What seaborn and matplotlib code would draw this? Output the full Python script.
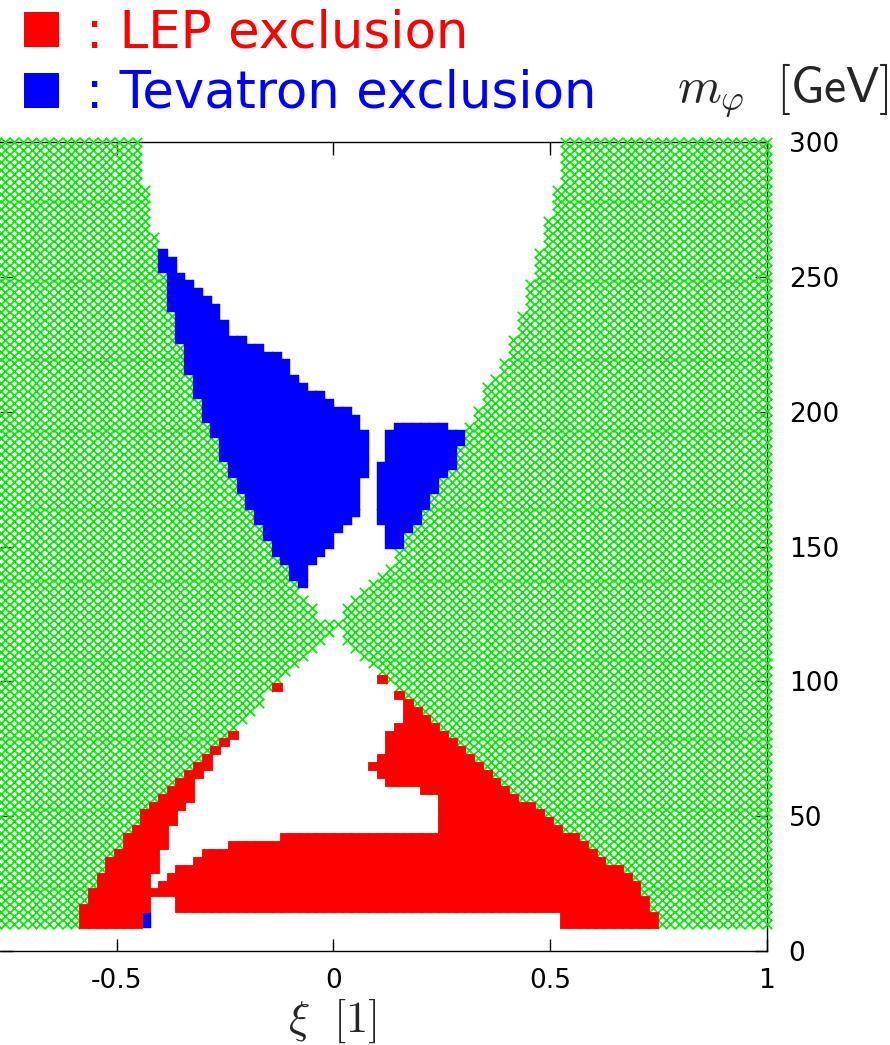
import numpy as np
import pandas as pd
import seaborn as sns
import matplotlib
matplotlib.use("Agg")
import matplotlib.pyplot as plt
from matplotlib.path import Path
from matplotlib.patches import Rectangle

# ---------------------------------------------------------------
# Scan grid of the (xi, m_phi) plane
# ---------------------------------------------------------------
xi_grid = np.linspace(-1.0, 1.0, 100)
m_grid = np.linspace(10.0, 300.0, 100)

# Theoretically allowed band (everything outside it is hatched).
# Each edge is a step function of m_phi: value holds from the break upward.
upper_left_brk = [122.8, 128.6, 131.6, 137.4, 143.3, 146.2, 152.1, 157.9, 163.8, 169.6, 175.5,
                  181.4, 190.2, 196.0, 204.8, 213.6, 225.3, 237.0, 251.7, 266.3, 283.9]
upper_left_xi = [-0.040, -0.061, -0.081, -0.101, -0.121, -0.141, -0.162, -0.182, -0.202, -0.222, -0.242,
                 -0.263, -0.283, -0.303, -0.323, -0.343, -0.364, -0.384, -0.404, -0.424, -0.444]

upper_right_brk = [122.8, 128.6, 131.6, 134.5, 137.4, 140.3, 143.3, 149.1, 155.0, 157.9, 163.8, 169.6, 175.5,
                   178.4, 187.2, 196.0, 201.9, 210.7, 213.6, 219.4, 228.2, 237.0, 248.7, 260.5, 272.2, 283.9]
upper_right_xi = [0.020, 0.040, 0.061, 0.081, 0.101, 0.121, 0.141, 0.162, 0.182, 0.202, 0.222, 0.242, 0.263,
                  0.283, 0.303, 0.323, 0.343, 0.364, 0.384, 0.404, 0.424, 0.444, 0.465, 0.485, 0.505, 0.525]

lower_left_brk = [8.5, 17.3, 23.2, 29.0, 34.9, 37.8, 43.7, 46.6, 52.5, 55.4, 58.3, 61.3, 64.2, 67.1, 70.1,
                  73.0, 75.9, 78.8, 81.8, 84.7, 87.6, 90.6, 96.4, 99.3, 102.3, 105.2, 108.1, 111.1, 114.0,
                  116.9, 119.8]
lower_left_xi = [-0.586, -0.566, -0.545, -0.525, -0.505, -0.485, -0.465, -0.444, -0.424, -0.404, -0.384,
                 -0.364, -0.343, -0.323, -0.303, -0.283, -0.263, -0.242, -0.222, -0.202, -0.182, -0.162,
                 -0.141, -0.121, -0.101, -0.081, -0.061, -0.040, -0.020, 0.000, np.nan]

lower_right_brk = [8.5, 14.4, 20.3, 26.1, 29.0, 32.0, 34.9, 37.8, 40.8, 43.7, 46.6, 49.5, 52.5, 55.4, 58.3,
                   61.3, 64.2, 67.1, 70.1, 73.0, 75.9, 78.8, 81.8, 84.7, 87.6, 90.6, 93.5, 96.4, 99.3,
                   102.3, 105.2, 108.1, 111.1, 114.0, 119.8]
lower_right_xi = [0.747, 0.727, 0.707, 0.687, 0.667, 0.626, 0.606, 0.586, 0.566, 0.525, 0.505, 0.485,
                  0.465, 0.424, 0.404, 0.384, 0.364, 0.343, 0.323, 0.303, 0.283, 0.263, 0.242, 0.222,
                  0.202, 0.182, 0.162, 0.141, 0.121, 0.101, 0.081, 0.061, 0.040, 0.020, np.nan]

# LEP: allowed cells in the lower wedge, except these unexcluded pockets
lep_gap_xi = [-0.798, 0.919, 0.919, 0.141, 0.141, 0.162, 0.162, 0.141, 0.141, 0.121, 0.121, 0.101,
              0.101, 0.081, 0.081, 0.101, 0.101, 0.121, 0.121, 0.202, 0.202, 0.242, 0.242, -0.121,
              -0.121, -0.242, -0.242, -0.303, -0.303, -0.323, -0.323, -0.364, -0.364, -0.384, -0.384,
              -0.404, -0.404, -0.424, -0.424, -0.404, -0.404, -0.384, -0.384, -0.364, -0.364, -0.343,
              -0.343, -0.323, -0.323, -0.303, -0.303, -0.283, -0.283, -0.263, -0.263, -0.242, -0.242,
              -0.222, -0.222, -0.798]
lep_gap_m = [127.2, 127.2, 96.4, 96.4, 93.5, 93.5, 84.7, 84.7, 81.8, 81.8, 73.0, 73.0,
             70.1, 70.1, 67.1, 67.1, 64.2, 64.2, 61.3, 61.3, 58.3, 58.3, 43.7, 43.7,
             40.8, 40.8, 37.8, 37.8, 34.9, 34.9, 32.0, 32.0, 29.0, 29.0, 26.1,
             26.1, 23.2, 23.2, 29.0, 29.0, 37.8, 37.8, 46.6, 46.6, 52.5, 52.5,
             55.4, 55.4, 64.2, 64.2, 67.1, 67.1, 73.0, 73.0, 75.9, 75.9, 78.8,
             78.8, 81.8, 81.8]
lep_strip_xi = [-0.444, 0.525, 0.525, -0.364, -0.364, -0.424, -0.424, -0.444]
lep_strip_m = [7.1, 7.1, 14.4, 14.4, 20.3, 20.3, 14.4, 14.4]
lep_extra_xi = [-0.131, 0.111]
lep_extra_m = [97.9, 100.8]

# Tevatron: left lobe bounded on the right, right lobe bounded on both sides
tev_left_brk = [134.5, 143.3, 146.2, 149.1, 155.0, 157.9, 160.9, 175.5, 193.1, 198.9, 201.9, 204.8,
                207.7, 210.7, 213.6, 219.4, 222.4, 225.3, 228.2, 234.1, 240.0, 242.9, 245.8, 248.7,
                251.7, 257.5, 260.5]
tev_left_xi = [-0.061, -0.040, -0.020, 0.000, 0.020, 0.040, 0.061, 0.081, 0.061, 0.040, 0.000, -0.020,
               -0.061, -0.081, -0.101, -0.121, -0.162, -0.202, -0.242, -0.263, -0.283, -0.303, -0.323,
               -0.343, -0.364, -0.384, np.nan]
tev_right_brk = [149.1, 157.9, 181.4, 193.1, 196.0]
tev_right_lo = [0.121, 0.101, 0.121, 0.141, np.nan]
tev_right_hi = [1.0, 1.0, 1.0, 0.263, np.nan]
tev_extra_xi = [-0.434, -0.434]
tev_extra_m = [10.0, 12.9]


def edge(m, brk, val):
    """Evaluate a step-function edge at the given m_phi values."""
    idx = np.searchsorted(brk, m, side="right") - 1
    v = np.asarray(val, dtype=float)
    out = v[np.clip(idx, 0, len(v) - 1)]
    return np.where(idx < 0, np.nan, out)


XI, M = np.meshgrid(xi_grid, m_grid)
XI, M = XI.ravel(), M.ravel()

upper = (XI > edge(M, upper_left_brk, upper_left_xi)) & (XI < edge(M, upper_right_brk, upper_right_xi))
lower = (XI > edge(M, lower_left_brk, lower_left_xi)) & (XI < edge(M, lower_right_brk, lower_right_xi))
theory = ~(upper | lower)

pts = np.column_stack([XI, M])
gap = Path(np.column_stack([lep_gap_xi, lep_gap_m])).contains_points(pts)
gap |= Path(np.column_stack([lep_strip_xi, lep_strip_m])).contains_points(pts)
lep = lower & ~gap

tev = upper & (
    (XI < edge(M, tev_left_brk, tev_left_xi))
    | ((XI > edge(M, tev_right_brk, tev_right_lo)) & (XI < edge(M, tev_right_brk, tev_right_hi)))
)

theory_df = pd.DataFrame({"xi": XI[theory], "m": M[theory]})
lep_df = pd.DataFrame({"xi": np.r_[XI[lep], lep_extra_xi], "m": np.r_[M[lep], lep_extra_m]})
tev_df = pd.DataFrame({"xi": np.r_[XI[tev], tev_extra_xi], "m": np.r_[M[tev], tev_extra_m]})

# ---------------------------------------------------------------
# Figure
# ---------------------------------------------------------------
sns.set_style("ticks")
plt.rcParams["font.family"] = ["DejaVu Sans"]
plt.rcParams["mathtext.fontset"] = "cm"

fig = plt.figure(figsize=(8.9, 10.45), dpi=100)
ax = fig.add_axes([0.0, 0.08995, 0.86124, 0.77388])

cell = Path([(-1, -0.9), (1, -0.9), (1, 0.9), (-1, 0.9), (-1, -0.9)], closed=True)

sns.scatterplot(data=theory_df, x="xi", y="m", marker="x", s=46, color="#00ee00",
                linewidth=1.25, ax=ax, zorder=3, clip_on=False, legend=False)
sns.scatterplot(data=tev_df, x="xi", y="m", marker=cell, s=42, color="#0000ff",
                edgecolor="#0000ff", linewidth=0.3, ax=ax, zorder=4, legend=False)
sns.scatterplot(data=lep_df, x="xi", y="m", marker=cell, s=42, color="#ff0000",
                edgecolor="#ff0000", linewidth=0.6, ax=ax, zorder=4, legend=False)

ax.set_xlim(-0.7702, 1.0)
ax.set_ylim(0, 300)
ax.set_xticks([-0.5, 0, 0.5, 1])
ax.set_xticklabels(["-0.5", "0", "0.5", "1"])
ax.set_yticks([0, 50, 100, 150, 200, 250, 300])
ax.set_yticklabels(["0", "50", "100", "150", "200", "250", "300"])
ax.tick_params(axis="both", direction="in", length=9, width=1.0, labelsize=19, colors="black")
ax.tick_params(axis="x", top=True, bottom=True, labeltop=False, labelbottom=True, pad=12)
ax.tick_params(axis="y", left=True, right=True, labelleft=False, labelright=True, pad=16)
ax.set_xlabel("")
ax.set_ylabel("")
ax.spines["left"].set_visible(False)
for side in ("top", "right", "bottom"):
    ax.spines[side].set_visible(True)
    ax.spines[side].set_linewidth(1.0)
    ax.spines[side].set_color("black")

# Axis titles
fig.text(0.374, 0.0124, r"$\xi\ \ \mathsf{[1]}$", fontsize=32, ha="center", va="baseline")
fig.text(0.999, 0.9033, r"$m_\varphi\ \ \mathsf{[GeV]}$", fontsize=36, ha="right", va="baseline")

# Colour key
fig.add_artist(Rectangle((0.027, 0.955), 0.0393, 0.0335, transform=fig.transFigure,
                         facecolor="#ff0000", edgecolor="none"))
fig.add_artist(Rectangle((0.027, 0.8967), 0.0393, 0.0335, transform=fig.transFigure,
                         facecolor="#0000ff", edgecolor="none"))
fig.text(0.0966, 0.955, ": LEP exclusion", fontsize=37, color="#ff0000", va="baseline")
fig.text(0.0966, 0.8967, ": Tevatron exclusion", fontsize=37, color="#0000ff", va="baseline")

fig.savefig("out.png", dpi=100)
